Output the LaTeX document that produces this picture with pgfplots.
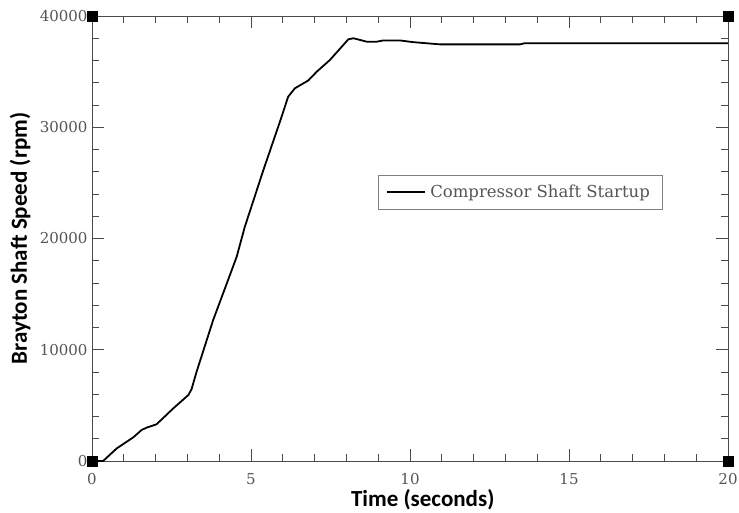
\documentclass[border=0pt]{standalone}
\usepackage{pgfplots}
\pgfplotsset{compat=1.18}
\usepackage{fontspec}
\setmainfont{DejaVu Serif}
\newfontfamily\labelfont{Carlito}
\definecolor{axgray}{HTML}{4A4A4A}
\definecolor{tickgray}{HTML}{555555}
\begin{document}
\begin{tikzpicture}
\path[use as bounding box] (-92bp,-52bp) rectangle (647bp,461bp);
\begin{axis}[
  scale only axis,
  width=636bp, height=445bp,
  xmin=0, xmax=20, ymin=0, ymax=40000,
  xtick={0,5,10,15,20},
  ytick={0,10000,20000,30000,40000},
  minor x tick num=4,
  minor y tick num=4,
  tick align=inside,
  xtick pos=both, ytick pos=both,
  xticklabel pos=bottom, yticklabel pos=left,
  major tick length=12bp,
  minor tick length=7bp,
  axis line style={axgray, line width=0.9bp},
  every tick/.style={axgray, line width=0.9bp},
  scaled y ticks=false,
  /pgf/number format/assume math mode=true,
  /pgf/number format/set thousands separator={},
  ticklabel style={font=\fontsize{15bp}{17bp}\selectfont, text=tickgray},
  xticklabel style={yshift=-9bp},
  yticklabel style={xshift=-1bp},
  xlabel={Time (seconds)},
  ylabel={Brayton Shaft Speed (rpm)},
  xlabel style={font=\labelfont\bfseries\fontsize{23bp}{26bp}\selectfont, at={(axis description cs:0.52,-0.087)}, anchor=center},
  ylabel style={font=\labelfont\bfseries\fontsize{23bp}{26bp}\selectfont, at={(axis description cs:-0.113,0.5)}, anchor=center},
  clip=false,
  legend image code/.code={\draw[#1] (0bp,0bp) -- (38bp,0bp);},
  legend style={at={(0.45,0.643)}, anchor=north west, draw=gray, line width=0.6bp,
    font=\fontsize{16.5bp}{18bp}\selectfont, text=tickgray, inner xsep=8bp, inner ysep=8bp,
    nodes={inner xsep=4bp}},
  legend cell align=left,
]
\addplot[black, line width=1.8bp] coordinates {
(0,0) (0.35,0) (0.78,1140) (1.30,2130) (1.56,2790) (1.72,3000) (2.03,3300)
(2.56,4740) (3.03,5930) (3.13,6450) (3.29,8030) (3.81,12670) (4.24,15970)
(4.55,18360) (4.80,21000) (5.39,26160) (5.91,30500) (6.17,32750) (6.38,33500)
(6.8,34200) (7.07,35000) (7.48,36040) (8.06,37900) (8.22,38000) (8.64,37690)
(8.95,37690) (9.16,37800) (9.69,37800) (10.1,37650) (10.31,37600) (10.94,37450)
(13.46,37450) (13.6,37550) (20,37550)
};
\addlegendentry{Compressor Shaft Startup}
\addplot[only marks, mark=square*, mark size=5bp, black, forget plot] coordinates {
(0,0) (0,40000) (20,0) (20,40000)
};
\end{axis}
\end{tikzpicture}
\end{document}
